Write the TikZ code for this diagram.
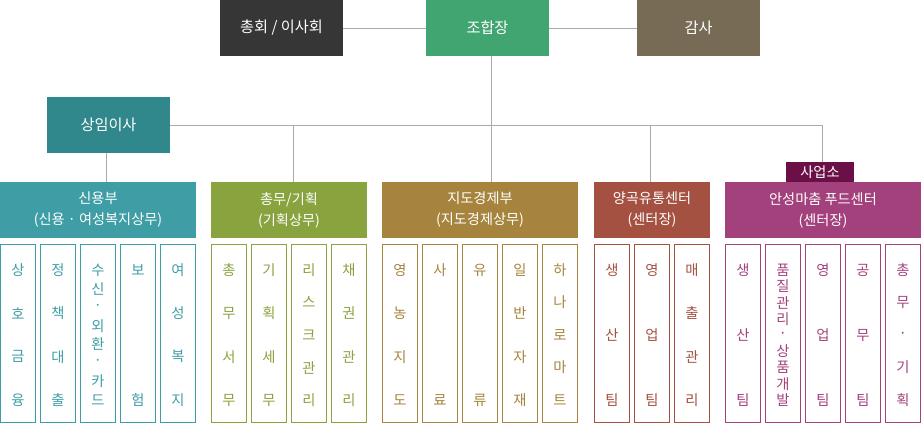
\documentclass[tikz,border=0pt]{standalone}
\usepackage{fontspec}
\setmainfont{Noto Sans CJK KR}
\usetikzlibrary{calc}

\definecolor{boardc}{HTML}{363636}
\definecolor{chiefc}{HTML}{40A571}
\definecolor{auditc}{HTML}{776B55}
\definecolor{execc}{HTML}{31888C}
\definecolor{creditc}{HTML}{3F9EA5}
\definecolor{generalc}{HTML}{89A33E}
\definecolor{guidec}{HTML}{A6843D}
\definecolor{grainc}{HTML}{A45141}
\definecolor{foodc}{HTML}{A3417D}
\definecolor{sitec}{HTML}{6B1046}
\definecolor{linec}{HTML}{AAAAAA}

\tikzset{
	topbox/.style={fill=#1, text=white, inner sep=0pt, outer sep=0pt,
		minimum width=123pt, minimum height=56pt, font=\fontsize{15.2}{18}\selectfont},
	deptbox/.style={fill=#1, text=white, inner sep=0pt, outer sep=0pt,
		minimum height=56pt, align=center, font=\fontsize{14.2}{21}\selectfont},
	colbox/.style={draw=#1, fill=white, line width=1.3pt, inner sep=0pt,
		minimum width=35pt, minimum height=178pt},
	colchar/.style={text=#1, inner sep=0pt, font=\fontsize{14.3}{15}\selectfont},
	link/.style={draw=linec, line width=0.95pt},
}

\begin{document}
\begin{tikzpicture}[x=1pt, y=-1pt]
	\useasboundingbox (0,0) rectangle (921,424);
	\def\ctop{270}		% first letter in a column
	\def\cspan{130}		% first to last letter
	\def\cmid{333.5}	% column centre

	% Top row
	\node[topbox=boardc] (board) at (281.5,28) {총회 / 이사회};
	\node[topbox=chiefc] (chief) at (487.5,28) {조합장};
	\node[topbox=auditc] (audit) at (698.5,28) {감사};
	\node[topbox=execc] (exec) at (108.5,125) {상임이사};

	% Departments
	\node[deptbox=creditc, minimum width=196pt] (credit) at (98,210) {신용부\\(신용 · 여성복지상무)};
	\node[deptbox=generalc, minimum width=156pt] (general) at (289,210) {총무/기획\\(기획상무)};
	\node[deptbox=guidec, minimum width=196pt] (guide) at (480,210) {지도경제부\\(지도경제상무)};
	\node[deptbox=grainc, minimum width=116pt] (grain) at (652,210) {양곡유통센터\\(센터장)};
	\node[deptbox=foodc, minimum width=196pt] (food) at (823,210) {안성마춤 푸드센터\\(센터장)};
	\node[fill=sitec, text=white, inner sep=0pt, outer sep=0pt, minimum width=68pt,
		minimum height=20pt, font=\fontsize{14.2}{15}\selectfont] (site) at (820,172) {사업소};

	% Connectors
	\coordinate (bus) at (491.3,125.3);
	\coordinate (dropA) at (293.3,125.3);
	\coordinate (dropB) at (650.3,125.3);
	\coordinate (dropC) at (822.3,125.3);
	\coordinate (dropD) at (106.3,153);
	\draw[link] (board.east) -- (chief.west);
	\draw[link] (chief.east) -- (audit.west);
	\draw[link] (chief.south -| bus) -- (bus |- guide.north);
	\draw[link] (exec.east |- bus) -- (dropC) -- (dropC |- site.north);
	\draw[link] (dropA) -- (dropA |- general.north);
	\draw[link] (dropB) -- (dropB |- grain.north);
	\draw[link] (dropD) -- (dropD |- credit.north);

	% Sections
	\foreach \cx/\n/\txt in {18/4/{상,호,금,융}, 58/4/{정,책,대,출},
		98/8/{수,신,·,외,환,·,카,드}, 138/2/{보,험}, 178/4/{여,성,복,지}}{
		\node[colbox=creditc] (col\cx) at (\cx,\cmid) {};
		\foreach \ch [count=\i from 0] in \txt
			\node[colchar=creditc] at (\cx,{\ctop+\i*\cspan/(\n-1)}) {\ch};
	}
	\foreach \cx/\n/\txt in {229/4/{총,무,서,무}, 269/4/{기,획,세,무},
		309/5/{리,스,크,관,리}, 349/4/{채,권,관,리}}{
		\node[colbox=generalc] (col\cx) at (\cx,\cmid) {};
		\foreach \ch [count=\i from 0] in \txt
			\node[colchar=generalc] at (\cx,{\ctop+\i*\cspan/(\n-1)}) {\ch};
	}
	\foreach \cx/\n/\txt in {400/4/{영,농,지,도}, 440/2/{사,료}, 480/2/{유,류},
		520/4/{일,반,자,재}, 560/5/{하,나,로,마,트}}{
		\node[colbox=guidec] (col\cx) at (\cx,\cmid) {};
		\foreach \ch [count=\i from 0] in \txt
			\node[colchar=guidec] at (\cx,{\ctop+\i*\cspan/(\n-1)}) {\ch};
	}
	\foreach \cx/\n/\txt in {612/3/{생,산,팀}, 652/3/{영,업,팀}, 692/4/{매,출,관,리}}{
		\node[colbox=grainc] (col\cx) at (\cx,\cmid) {};
		\foreach \ch [count=\i from 0] in \txt
			\node[colchar=grainc] at (\cx,{\ctop+\i*\cspan/(\n-1)}) {\ch};
	}
	\foreach \cx/\n/\txt in {743/3/{생,산,팀}, 783/9/{품,질,관,리,·,상,품,개,발},
		823/3/{영,업,팀}, 863/3/{공,무,팀}, 903/5/{총,무,·,기,획}}{
		\node[colbox=foodc] (col\cx) at (\cx,\cmid) {};
		\foreach \ch [count=\i from 0] in \txt
			\node[colchar=foodc] at (\cx,{\ctop+\i*\cspan/(\n-1)}) {\ch};
	}
\end{tikzpicture}
\end{document}
